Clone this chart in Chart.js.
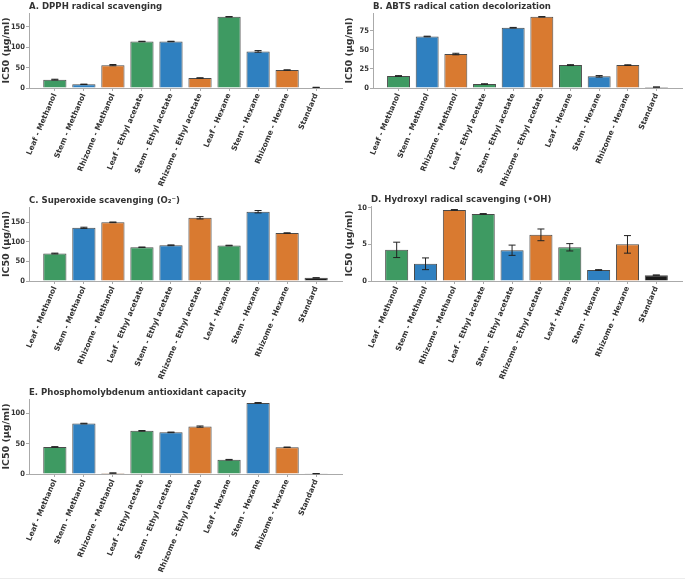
<!DOCTYPE html>
<html>
<head>
<meta charset="utf-8">
<script src="https://cdn.jsdelivr.net/npm/chart.js@4.4.1/dist/chart.umd.min.js"></script>
<style>
  body { margin: 0; background: #fff; }
  #page { position: relative; width: 685px; height: 583px; overflow: hidden; background: #fff; }
  #page canvas { position: absolute; }
  #edge { position: absolute; left: 0; top: 578px; width: 685px; border-top: 1px solid #ececec; }
</style>
</head>
<body>
<div id="page">
  <canvas id="chartA" width="345" height="190" style="left:0;top:0"></canvas>
  <canvas id="chartB" width="342" height="190" style="left:343px;top:0"></canvas>
  <canvas id="chartC" width="345" height="192" style="left:0;top:190px"></canvas>
  <canvas id="chartD" width="342" height="192" style="left:343px;top:190px"></canvas>
  <canvas id="chartE" width="345" height="201" style="left:0;top:382px"></canvas>
  <div id="edge"></div>
</div>
<script>
// categories (extract x solvent)
const categories = [
    'Leaf - Methanol', 'Stem - Methanol', 'Rhizome - Methanol',
    'Leaf - Ethyl acetate', 'Stem - Ethyl acetate', 'Rhizome - Ethyl acetate',
    'Leaf - Hexane', 'Stem - Hexane', 'Rhizome - Hexane', 'Standard'
];

// IC50 values (µg/ml) and error bars
const dpphValues = [20.5, 9, 56, 114, 114, 24.5, 174.5, 89.7, 44, 1.5];
const dpphErrors = [1, 0.5, 1.5, 0.5, 0.5, 0.5, 0.5, 2, 0.5, 0.3];
const abtsValues = [15.7, 67.5, 44.5, 5.2, 79, 93.3, 30, 15.3, 30, 1.2];
const abtsErrors = [0.5, 0.4, 1, 0.3, 0.4, 0.3, 0.6, 1, 0.4, 0.1];
const superoxideValues = [70, 135.5, 149.5, 86, 91, 161, 90.4, 176.5, 122, 8];
const superoxideErrors = [1, 1.5, 0.8, 0.5, 1, 3, 0.7, 3, 0.7, 0.3];
const hydroxylValues = [4.25, 2.35, 9.7, 9.15, 4.2, 6.3, 4.6, 1.5, 5.0, 0.8];
const hydroxylErrors = [1.05, 0.8, 0.05, 0.05, 0.7, 0.8, 0.5, 0.05, 1.2, 0.02];
const phosphoValues = [44.5, 83, 1.5, 71, 68.5, 78, 23.5, 117, 44, 0.6];
const phosphoErrors = [0.5, 0.5, 0.3, 0.5, 0.5, 1, 0.5, 0.5, 0.3, 0.1];

// y tick labels per panel
const dpphTicks = [0, 50, 100, 150];
const abtsTicks = [0, 25, 50, 75];
const superoxideTicks = [0, 50, 100, 150];
const hydroxylTicks = [0, 5, 10];
const phosphoTicks = [0, 50, 100];

// colour by plant part
const partColors = { Leaf: '#3e9a62', Stem: '#2f80c0', Rhizome: '#d97a30', Standard: '#1a1a1a' };
const barColors = categories.map(c => partColors[c.split(' - ')[0]]);

const FONT = '"DejaVu Sans", sans-serif';
const NARROW = '"DejaVu Sans Condensed", "DejaVu Sans", sans-serif';
const TEXT = '#333';
const SPINE = '#aaa';

// draws panel title left-aligned with the axes
const panelTitle = {
    id: 'panelTitle',
    afterDraw(chart, args, opts) {
        const ctx = chart.ctx;
        ctx.save();
        ctx.font = 'bold 9.5px ' + NARROW;
        ctx.fillStyle = TEXT;
        ctx.textBaseline = 'alphabetic';
        ctx.fillText(opts.text, chart.chartArea.left, chart.chartArea.top - 4);
        ctx.restore();
    }
};

// error bars with caps, positioned through the chart scales
const errorBars = {
    id: 'errorBars',
    afterDatasetsDraw(chart, args, opts) {
        const ctx = chart.ctx;
        const xs = chart.scales.x, ys = chart.scales.y;
        ctx.save();
        ctx.strokeStyle = '#222';
        ctx.lineWidth = 1;
        opts.values.forEach((v, i) => {
            const e = opts.errors[i];
            const x = xs.getPixelForValue(i);
            const y1 = ys.getPixelForValue(v + e);
            const y2 = ys.getPixelForValue(Math.max(0, v - e));
            ctx.beginPath();
            ctx.moveTo(x, y1); ctx.lineTo(x, y2);
            ctx.moveTo(x - 3.5, y1); ctx.lineTo(x + 3.5, y1);
            ctx.moveTo(x - 3.5, y2); ctx.lineTo(x + 3.5, y2);
            ctx.stroke();
        });
        ctx.restore();
    }
};

function makePanel(id, title, values, errors, yTicks, box) {
    const top = Math.max(...values.map((v, i) => v + errors[i])) * 1.05;
    const n = categories.length;
    const margin = (n - 1 + 0.8) * 0.05;
    new Chart(document.getElementById(id), {
        type: 'bar',
        data: {
            datasets: [{
                data: values.map((v, i) => ({ x: i, y: v })),
                backgroundColor: barColors,
                borderColor: '#4a4a4a',
                borderWidth: 1,
                barPercentage: 0.8,
                categoryPercentage: 1
            }]
        },
        options: {
            responsive: false,
            animation: false,
            layout: { padding: { top: box.padTop, right: box.padRight, left: 0, bottom: 0 } },
            plugins: {
                legend: { display: false },
                tooltip: { enabled: false },
                panelTitle: { text: title },
                errorBars: { values: values, errors: errors }
            },
            scales: {
                x: {
                    type: 'linear',
                    offset: false,
                    min: -0.4 - margin,
                    max: n - 1 + 0.4 + margin,
                    afterBuildTicks: axis => { axis.ticks = categories.map((c, i) => ({ value: i })); },
                    afterFit: axis => { axis.height = box.xH; },
                    ticks: {
                        autoSkip: false,
                        minRotation: 67,
                        maxRotation: 67,
                        padding: 1,
                        color: TEXT,
                        font: { family: FONT, size: 7.5, weight: 'bold' },
                        callback: v => categories[v]
                    },
                    grid: { offset: false, drawOnChartArea: false, drawTicks: true, tickLength: 3, color: SPINE },
                    border: { color: SPINE, width: 1 }
                },
                y: {
                    min: 0,
                    max: top,
                    afterBuildTicks: axis => { axis.ticks = yTicks.map(v => ({ value: v })); },
                    afterFit: axis => { axis.width = box.yW; },
                    ticks: {
                        padding: 1,
                        color: TEXT,
                        font: { family: NARROW, size: 7.5, weight: 'bold' }
                    },
                    title: {
                        display: true,
                        text: 'IC50 (µg/ml)',
                        color: TEXT,
                        padding: { top: 1, bottom: 0 },
                        font: { family: FONT, size: 9.5, weight: 'bold' }
                    },
                    grid: { drawOnChartArea: false, drawTicks: true, tickLength: 3, color: SPINE },
                    border: { color: SPINE, width: 1 }
                }
            }
        },
        plugins: [panelTitle, errorBars]
    });
}

makePanel('chartA', 'A. DPPH radical scavenging', dpphValues, dpphErrors, dpphTicks,
    { padTop: 13, padRight: 3, yW: 29, xH: 102 });
makePanel('chartB', 'B. ABTS radical cation decolorization', abtsValues, abtsErrors, abtsTicks,
    { padTop: 13, padRight: 3, yW: 30, xH: 102 });
makePanel('chartC', 'C. Superoxide scavenging (O\u2082\u207B)', superoxideValues, superoxideErrors, superoxideTicks,
    { padTop: 17, padRight: 3, yW: 29, xH: 101 });
makePanel('chartD', 'D. Hydroxyl radical scavenging (\u2022OH)', hydroxylValues, hydroxylErrors, hydroxylTicks,
    { padTop: 16, padRight: 3, yW: 28, xH: 101 });
makePanel('chartE', 'E. Phosphomolybdenum antioxidant capacity', phosphoValues, phosphoErrors, phosphoTicks,
    { padTop: 17, padRight: 3, yW: 29, xH: 109 });
</script>
</body>
</html>
